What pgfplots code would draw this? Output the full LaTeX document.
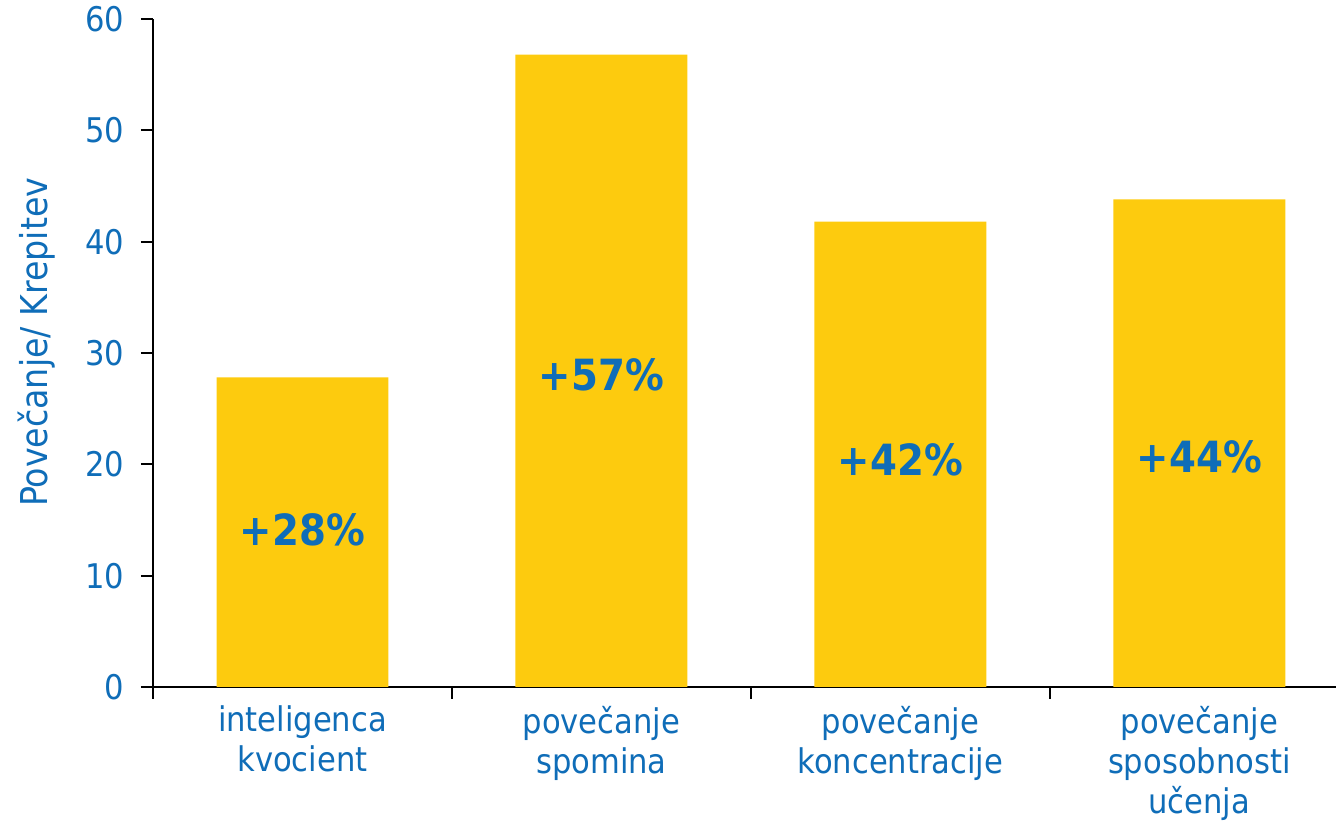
\documentclass[border=0pt]{standalone}
\usepackage{fontspec}
\setmainfont{DejaVu Sans Condensed}
\usepackage{pgfplots}
\pgfplotsset{compat=1.18}
\definecolor{barY}{HTML}{FDCB0E}
\definecolor{txtB}{HTML}{0F6DB8}

\begin{document}
\begin{tikzpicture}
\begin{axis}[
  name=ax,
  scale only axis,
  width=591.5pt, height=334pt,
  xmin=-0.5, xmax=3.457,
  ymin=0, ymax=60,
  axis x line*=bottom, axis y line*=left,
  axis line style={line width=1.1pt, black},
  tick align=outside,
  major tick length=6pt, minor tick length=6pt,
  every tick/.style={line width=1pt, black},
  ytick={0,10,...,60},
  xtick={0,1,2,3},
  xticklabels={inteligenca\\kvocient, povečanje\\spomina, povečanje\\koncentracije, povečanje\\sposobnosti\\učenja},
  major x tick style={draw=none},
  minor xtick={-0.5,0.5,1.5,2.5},
  ticklabel style={font=\fontsize{17}{20}\selectfont, text=txtB},
  xticklabel style={align=center},
  yticklabel style={xshift=-5pt},
  /pgf/number format/assume math mode=true,
  ylabel={Povečanje/ Krepitev},
  every axis y label/.style={at={(axis description cs:0,0.516)}, xshift=-58pt, rotate=90, anchor=center,
    font=\fontsize{18.5}{20}\selectfont, text=txtB},
  clip=false,
]
\addplot[ybar, bar width=0.575, fill=barY, draw=none] coordinates {(0,27.8) (1,56.8) (2,41.8) (3,43.8)};
\addplot[draw=none, mark=none, nodes near coords, point meta=explicit symbolic,
  nodes near coords align={center},
  every node near coord/.style={font=\fontsize{21.5}{24}\bfseries, text=txtB, anchor=center}]
  coordinates {(0,14.1)[+28\%] (1,28.0)[+57\%] (2,20.4)[+42\%] (3,20.7)[+44\%]};
\end{axis}
\pgfresetboundingbox
\path ([xshift=-76.5pt,yshift=-68.5pt]ax.south west) rectangle ([yshift=9.5pt]ax.north east);
\end{tikzpicture}
\end{document}
